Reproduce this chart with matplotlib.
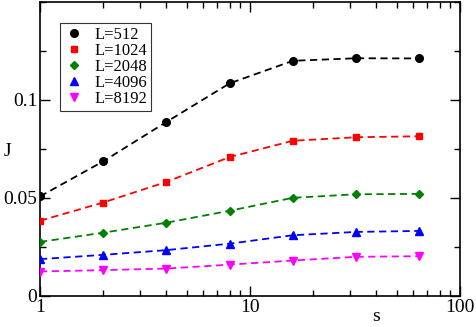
import matplotlib
matplotlib.use("Agg")
import matplotlib.pyplot as plt
from matplotlib.ticker import MultipleLocator, FixedLocator

plt.rcParams['font.family'] = ['Liberation Serif', 'DejaVu Serif']
plt.rcParams['mathtext.fontset'] = 'stix'

s = [1, 2, 4, 8, 16, 32, 64]
labels = ["L=512", "L=1024", "L=2048", "L=4096", "L=8192"]
J_512 = [0.0508, 0.0687, 0.0888, 0.1085, 0.1200, 0.1213, 0.1212]
J_1024 = [0.0384, 0.0477, 0.0582, 0.0709, 0.0792, 0.0810, 0.0815]
J_2048 = [0.0276, 0.0323, 0.0374, 0.0435, 0.0501, 0.0519, 0.0521]
J_4096 = [0.0188, 0.0210, 0.0234, 0.0267, 0.0310, 0.0327, 0.0332]
J_8192 = [0.0125, 0.0132, 0.0140, 0.0160, 0.0181, 0.0200, 0.0203]
series = [J_512, J_1024, J_2048, J_4096, J_8192]
colors = ["black", "red", "green", "blue", "magenta"]
markers = ["o", "s", "D", "^", "v"]
msizes = [5.5, 5, 4, 5.5, 5.5]

fig = plt.figure(figsize=(4.76, 3.27), dpi=100)
ax = fig.add_axes([40/476, 1 - 296/327, 420/476, 294/327])

for y, lab, c, m, ms in zip(series, labels, colors, markers, msizes):
    ax.plot(s, y, color=c, ls="--", lw=1.3, dashes=(4, 2.5), zorder=2)
    ax.plot(s, y, color=c, ls="none", marker=m, ms=ms, label=lab, zorder=3)

ax.set_xscale("log")
ax.set_xlim(1, 100)
ax.set_ylim(0, 0.15)
ax.set_xticks([1, 10, 100])
ax.set_xticklabels(["1", "10", "100"])
ax.yaxis.set_major_locator(FixedLocator([0, 0.05, 0.1]))
ax.set_yticklabels(["0", "0.05", "0.1"])
ax.yaxis.set_minor_locator(MultipleLocator(0.025))
ax.tick_params(which="both", direction="in", top=True, right=True, labelsize=14, width=1, pad=2)
ax.tick_params(which="major", length=7)
ax.tick_params(which="minor", length=4)
for sp in ax.spines.values():
    sp.set_linewidth(1.2)

ax.set_xlabel("s", fontsize=14, va="center")
ax.xaxis.set_label_coords(0.8, -0.07)
ax.set_ylabel("J", fontsize=14, rotation=0, va="center", ha="center")
ax.yaxis.set_label_coords(-0.078, 0.49)

leg = ax.legend(loc="upper left", bbox_to_anchor=(0.048, 0.93), fontsize=12, frameon=True,
                fancybox=False, edgecolor="black", handlelength=1.2, handletextpad=0.6,
                borderpad=0.25, labelspacing=0.0, borderaxespad=0)
leg.get_frame().set_linewidth(0.8)

fig.savefig("out.png", dpi=100)
